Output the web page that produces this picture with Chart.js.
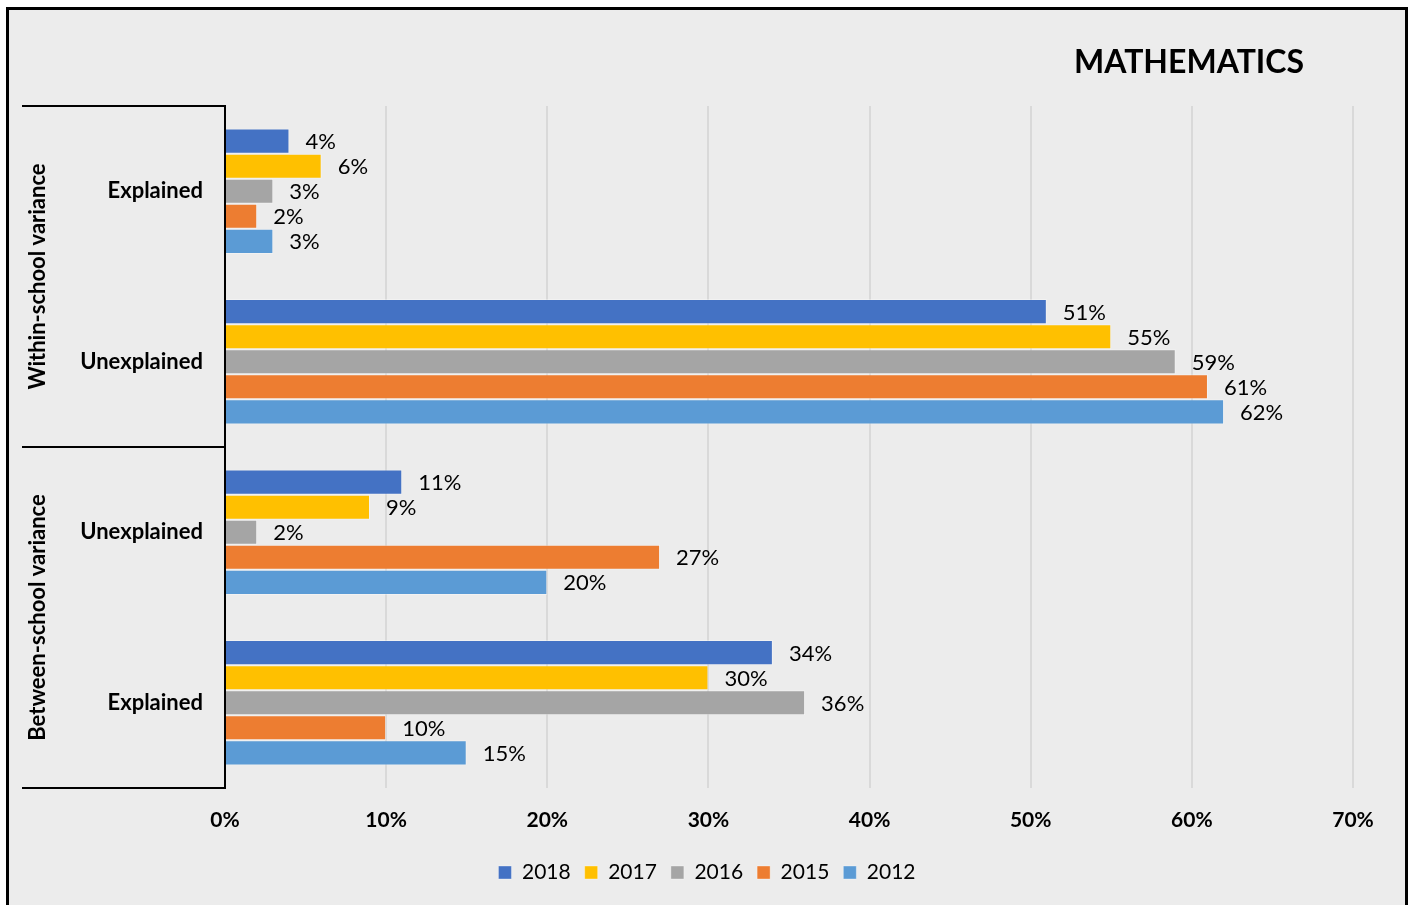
<!DOCTYPE html>
<html>
<head>
<meta charset="utf-8">
<script src="https://cdn.jsdelivr.net/npm/chart.js@4.4.1/dist/chart.umd.min.js"></script>
<style>
  html, body { margin: 0; padding: 0; background: #ffffff; overflow: hidden; }
  #frame { position: absolute; left: 6px; top: 7px; width: 1396px; height: 905px;
           border: 3px solid #000; background: #ececec; }
  #c { display: block; }
</style>
</head>
<body>
<div id="frame"><canvas id="c" width="1396" height="895"></canvas></div>
<script>
const categories = ['Explained', 'Unexplained', 'Unexplained', 'Explained'];
const groups = ['Within-school variance', 'Between-school variance'];
const seriesNames = ['2018', '2017', '2016', '2015', '2012'];
const v2018 = [4, 51, 11, 34];
const v2017 = [6, 55, 9, 30];
const v2016 = [3, 59, 2, 36];
const v2015 = [2, 61, 27, 10];
const v2012 = [3, 62, 20, 15];
const xTicks = [0, 10, 20, 30, 40, 50, 60, 70];
const titleText = 'MATHEMATICS';

const colors = ['#4472C4', '#FFC000', '#A5A5A5', '#ED7D31', '#5B9BD5'];
const seriesValues = [v2018, v2017, v2016, v2015, v2012];
const FONT = 'Lato, "Open Sans", sans-serif';

const overlay = {
  id: 'overlay',
  afterDatasetsDraw(chart) {
    const ctx = chart.ctx;
    const y = chart.scales.y;
    const area = chart.chartArea;
    ctx.save();
    // data labels
    ctx.font = '22px ' + FONT;
    ctx.fillStyle = '#000';
    ctx.textAlign = 'left';
    ctx.textBaseline = 'middle';
    chart.data.datasets.forEach((ds, di) => {
      const meta = chart.getDatasetMeta(di);
      meta.data.forEach((bar, i) => {
        ctx.fillText(ds.data[i] + '%', bar.x + 16, bar.y + 1);
      });
    });
    // group separators
    ctx.strokeStyle = '#000';
    ctx.lineWidth = 2;
    const bounds = [area.top, (y.getPixelForValue(1) + y.getPixelForValue(2)) / 2, area.bottom];
    bounds.forEach(b => {
      ctx.beginPath();
      ctx.moveTo(13, b);
      ctx.lineTo(area.left, b);
      ctx.stroke();
    });
    // group labels
    ctx.font = 'bold 22px ' + FONT;
    ctx.textAlign = 'center';
    ctx.textBaseline = 'middle';
    groups.forEach((g, gi) => {
      const cy = (bounds[gi] + bounds[gi + 1]) / 2;
      ctx.save();
      ctx.translate(29, cy);
      ctx.rotate(-Math.PI / 2);
      ctx.fillText(g, 0, 0);
      ctx.restore();
    });
    // title
    ctx.font = 'bold 32px ' + FONT;
    ctx.textAlign = 'center';
    ctx.fillText(titleText, 1180, 53);
    ctx.restore();
  }
};

new Chart(document.getElementById('c'), {
  type: 'bar',
  data: {
    labels: categories,
    datasets: seriesNames.map((n, i) => ({
      label: n,
      data: seriesValues[i],
      backgroundColor: colors[i],
      borderColor: 'rgba(255,255,255,0.35)',
      borderWidth: 1,
      categoryPercentage: 0.735,
      barPercentage: 1.0
    }))
  },
  options: {
    indexAxis: 'y',
    responsive: false,
    animation: false,
    layout: { padding: { top: 96, right: 0, bottom: 12, left: 0 } },
    plugins: {
      title: { display: false },
      tooltip: { enabled: false },
      legend: {
        position: 'bottom',
        labels: {
          boxWidth: 13, boxHeight: 13, padding: 14,
          color: '#000',
          font: { family: FONT, size: 21 }
        }
      }
    },
    scales: {
      x: {
        min: 0, max: 70,
        afterBuildTicks(axis) { axis.ticks = xTicks.map(v => ({ value: v })); },
        ticks: {
          callback: v => v + '%',
          color: '#000',
          padding: 20,
          font: { family: FONT, size: 21, weight: 'bold' }
        },
        grid: { color: '#d9d9d9', lineWidth: 2, drawTicks: false },
        border: { display: false },
        afterFit(axis) { axis.height = 60; }
      },
      y: {
        ticks: {
          color: '#000',
          padding: 22,
          font: { family: FONT, size: 22, weight: 'bold' }
        },
        grid: { display: false, drawTicks: false },
        border: { display: true, color: '#000', width: 2 },
        afterFit(axis) { axis.width = 216; }
      },
      yRight: {
        type: 'category',
        position: 'right',
        display: true,
        ticks: { display: false },
        grid: { display: false, drawTicks: false },
        border: { display: false },
        afterFit(axis) { axis.width = 52; }
      }
    }
  },
  plugins: [overlay]
});
</script>
</body>
</html>
